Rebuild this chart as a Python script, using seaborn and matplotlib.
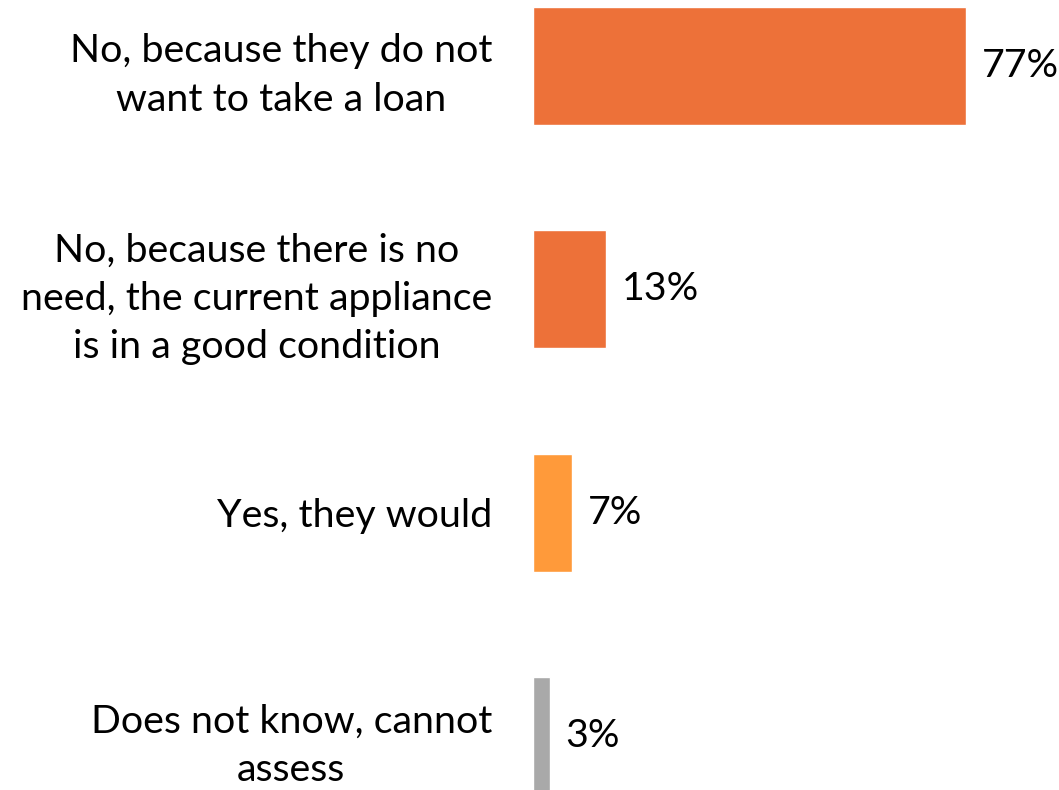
import matplotlib
matplotlib.use("Agg")
import matplotlib.pyplot as plt
import seaborn as sns
import pandas as pd

categories = [
    "No, because they do not\nwant to take a loan",
    "No, because there is no\nneed, the current appliance\nis in a good condition",
    "Yes, they would",
    "Does not know, cannot\nassess",
]
values = [77, 13, 7, 3]
value_labels = ["77%", "13%", "7%", "3%"]
colors = ["#ED7139", "#ED7139", "#FF9A3A", "#A9A9A9"]

sns.set_theme(style="white")
plt.rcParams["font.family"] = ["Lato", "DejaVu Sans"]

df = pd.DataFrame({"category": categories, "value": values})

fig = plt.figure(figsize=(10.59, 7.9), dpi=100)
ax = fig.add_axes([533 / 1059, 0, (1059 - 533) / 1059, 1])

sns.barplot(data=df, x="value", y="category", hue="category",
            palette=colors, orient="h", width=0.528, legend=False,
            saturation=1, ax=ax)

ax.set_xlim(0, 93.5)
ax.set_ylim(3.242, -0.2955)
ax.set_xlabel("")
ax.set_ylabel("")
ax.set_xticks([])
for s in ax.spines.values():
    s.set_visible(False)

fs = 28.4
ax.tick_params(axis="y", length=0, pad=29.5)
for lab in ax.get_yticklabels():
    lab.set_fontsize(fs)
    lab.set_multialignment("center")
    lab.set_linespacing(1.42)
    lab.set_color("black")

for i, (v, t) in enumerate(zip(values, value_labels)):
    ax.annotate(t, xy=(v, i), xytext=(11, 0), textcoords="offset points",
                va="center", ha="left", fontsize=fs, color="black")

fig.savefig("out.png", dpi=100)
